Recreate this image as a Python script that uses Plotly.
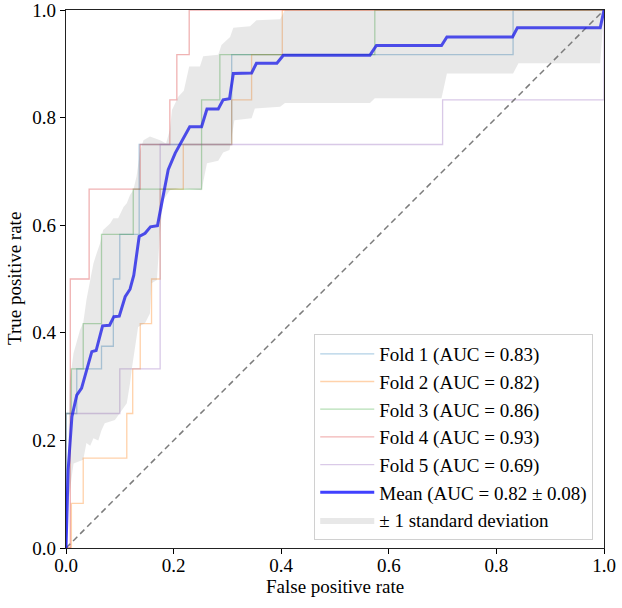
import plotly.graph_objects as go

# ---------------- data ----------------
fold_names = ["Fold 1 (AUC = 0.83)", "Fold 2 (AUC = 0.82)", "Fold 3 (AUC = 0.86)",
              "Fold 4 (AUC = 0.93)", "Fold 5 (AUC = 0.69)"]

fold1_fpr = [0, 0, 0.02, 0.02, 0.066, 0.066, 0.088, 0.088, 0.1, 0.1, 0.136, 0.136, 0.308, 0.308, 0.831, 0.831, 1]
fold1_tpr = [0, 0.25, 0.25, 0.333, 0.333, 0.375, 0.375, 0.5, 0.5, 0.583, 0.583, 0.75, 0.75, 0.917, 0.917, 1, 1]

fold2_fpr = [0, 0.01, 0.01, 0.032, 0.032, 0.113, 0.113, 0.124, 0.124, 0.138, 0.138, 0.159, 0.159, 0.175,
             0.175, 0.218, 0.218, 0.308, 0.308, 0.345, 0.345, 0.402, 0.402, 1]
fold2_tpr = [0, 0, 0.083, 0.083, 0.167, 0.167, 0.25, 0.25, 0.333, 0.333, 0.417, 0.417, 0.5, 0.5,
             0.667, 0.667, 0.75, 0.75, 0.833, 0.833, 0.917, 0.917, 1, 1]

fold3_fpr = [0, 0, 0.01, 0.01, 0.032, 0.032, 0.066, 0.066, 0.125, 0.125, 0.252, 0.252, 0.286, 0.286, 0.574, 0.574, 1]
fold3_tpr = [0, 0.25, 0.25, 0.333, 0.333, 0.417, 0.417, 0.583, 0.583, 0.667, 0.667, 0.833, 0.833, 0.917, 0.917, 1, 1]

fold4_fpr = [0, 0.008, 0.008, 0.043, 0.043, 0.138, 0.138, 0.193, 0.193, 0.206, 0.206, 0.229, 0.229, 1.0]
fold4_tpr = [0, 0, 0.5, 0.5, 0.667, 0.667, 0.75, 0.75, 0.833, 0.833, 0.917, 0.917, 1.0, 1.0]

fold5_fpr = [0, 0, 0.1, 0.1, 0.175, 0.175, 0.7, 0.7, 1, 1]
fold5_tpr = [0, 0.25, 0.25, 0.333, 0.333, 0.75, 0.75, 0.833, 0.833, 1]

mean_name = "Mean (AUC = 0.82 \u00b1 0.08)"
mean_fpr = [0, 0.004, 0.011, 0.02, 0.029, 0.038, 0.048, 0.056, 0.068, 0.081, 0.089, 0.099, 0.110, 0.119,
            0.126, 0.136, 0.147, 0.157, 0.170, 0.178, 0.184, 0.190, 0.203, 0.216, 0.230, 0.252, 0.262,
            0.283, 0.292, 0.304, 0.311, 0.345, 0.354, 0.392, 0.404, 0.565, 0.577, 0.698, 0.708, 0.830,
            0.839, 0.993, 1.0]
mean_tpr = [0, 0.145, 0.244, 0.284, 0.297, 0.33, 0.365, 0.367, 0.413, 0.414, 0.43, 0.431, 0.467, 0.481,
            0.507, 0.579, 0.585, 0.597, 0.599, 0.641, 0.672, 0.703, 0.734, 0.758, 0.783, 0.783, 0.816,
            0.816, 0.833, 0.835, 0.882, 0.883, 0.901, 0.901, 0.916, 0.916, 0.934, 0.934, 0.95, 0.95,
            0.967, 0.967, 1.0]

band_name = "\u00b1 1 standard deviation"
upper_fpr = [0, 0.004, 0.007, 0.014, 0.026, 0.032, 0.038, 0.045, 0.051, 0.057, 0.063, 0.069, 0.082, 0.088,
             0.097, 0.107, 0.113, 0.119, 0.125, 0.131, 0.138, 0.144, 0.156, 0.175, 0.186, 0.193, 0.197,
             0.209, 0.219, 0.229, 0.249, 0.255, 0.283, 0.289, 0.305, 0.311, 0.342, 0.354, 0.398, 0.407, 1.0]
upper_tpr = [0, 0.2, 0.31, 0.362, 0.405, 0.418, 0.461, 0.498, 0.529, 0.548, 0.565, 0.591, 0.603, 0.613,
             0.613, 0.634, 0.641, 0.656, 0.665, 0.69, 0.74, 0.758, 0.765, 0.758, 0.752, 0.777, 0.814,
             0.839, 0.85, 0.895, 0.895, 0.914, 0.917, 0.935, 0.95, 0.967, 0.97, 0.981, 0.983, 1.0, 1.0]
lower_fpr = [0, 0.005, 0.014, 0.032, 0.038, 0.045, 0.051, 0.06, 0.066, 0.072, 0.091, 0.1, 0.113, 0.119,
             0.122, 0.134, 0.147, 0.156, 0.159, 0.169, 0.175, 0.181, 0.193, 0.212, 0.252, 0.262, 0.283,
             0.292, 0.304, 0.313, 0.345, 0.351, 0.398, 0.407, 0.565, 0.574, 0.698, 0.708, 0.831, 0.841,
             0.993, 1.0]
lower_tpr = [0, 0.09, 0.157, 0.164, 0.195, 0.19, 0.204, 0.2, 0.219, 0.232, 0.238, 0.25, 0.269, 0.306,
             0.331, 0.411, 0.418, 0.436, 0.492, 0.498, 0.591, 0.647, 0.665, 0.669, 0.665, 0.715, 0.72,
             0.735, 0.74, 0.795, 0.799, 0.817, 0.82, 0.827, 0.827, 0.836, 0.836, 0.882, 0.882, 0.901,
             0.901, 1.0]

chance_x = [0, 1]
chance_y = [0, 1]

tick_vals = [0.0, 0.2, 0.4, 0.6, 0.8, 1.0]
tick_labels = ["0.0", "0.2", "0.4", "0.6", "0.8", "1.0"]

x_title = "False positive rate"
y_title = "True positive rate"

# ---------------- figure ----------------
FONT = "Liberation Serif, Times New Roman, serif"
fold_colors = ["#1f77b4", "#ff7f0e", "#2ca02c", "#d62728", "#9467bd"]
folds = [(fold1_fpr, fold1_tpr), (fold2_fpr, fold2_tpr), (fold3_fpr, fold3_tpr),
         (fold4_fpr, fold4_tpr), (fold5_fpr, fold5_tpr)]

fig = go.Figure()
for (fx, fy), name, col in zip(folds, fold_names, fold_colors):
    fig.add_trace(go.Scatter(x=fx, y=fy, mode="lines", name=name,
                             line=dict(color=col, width=1.3), opacity=0.35))

fig.add_trace(go.Scatter(x=chance_x, y=chance_y, mode="lines", showlegend=False,
                         line=dict(color="rgba(110,110,110,0.9)", width=1.5, dash="6px,4px")))

fig.add_trace(go.Scatter(x=mean_fpr, y=mean_tpr, mode="lines", name=mean_name,
                         line=dict(color="rgba(0,0,255,0.75)", width=3)))

fig.add_trace(go.Scatter(x=upper_fpr + lower_fpr[::-1], y=upper_tpr + lower_tpr[::-1],
                         mode="lines", fill="toself", name=band_name,
                         fillcolor="rgba(128,128,128,0.18)", line=dict(width=0, color="rgba(0,0,0,0)")))

axis_common = dict(range=[0, 1], tickvals=tick_vals, ticktext=tick_labels, ticks="outside",
                   ticklen=5, tickwidth=1.2, tickcolor="black", showline=True, linecolor="#222",
                   linewidth=1.3, mirror=True, showgrid=False, zeroline=False, automargin=False,
                   ticklabeloverflow="allow",
                   tickfont=dict(family=FONT, size=19, color="black"))

fig.update_layout(
    width=622, height=608,
    margin=dict(l=66, r=18, t=10, b=60, autoexpand=False),
    paper_bgcolor="white", plot_bgcolor="white",
    font=dict(family=FONT, size=19, color="black"),
    xaxis=dict(ticklabelstandoff=-5, **axis_common),
    yaxis=dict(**axis_common),
    legend=dict(x=0.98, xanchor="right", y=0.015, yanchor="bottom",
                bgcolor="rgba(255,255,255,0.85)", bordercolor="#d0d0d0", borderwidth=1,
                font=dict(family=FONT, size=19, color="black"), itemwidth=54),
    showlegend=True,
    annotations=[
        dict(text=x_title, xref="paper", yref="paper", x=0.5, y=0, xanchor="center",
             yanchor="middle", yshift=-38, showarrow=False, font=dict(family=FONT, size=19)),
        dict(text=y_title, xref="paper", yref="paper", x=0, y=0.5, xanchor="center",
             yanchor="middle", xshift=-52, textangle=-90, showarrow=False,
             font=dict(family=FONT, size=19)),
    ],
)

fig.write_html("out.html", config={"displayModeBar": False},
               post_script="document.body.style.margin='0px';document.body.style.padding='0px';")
